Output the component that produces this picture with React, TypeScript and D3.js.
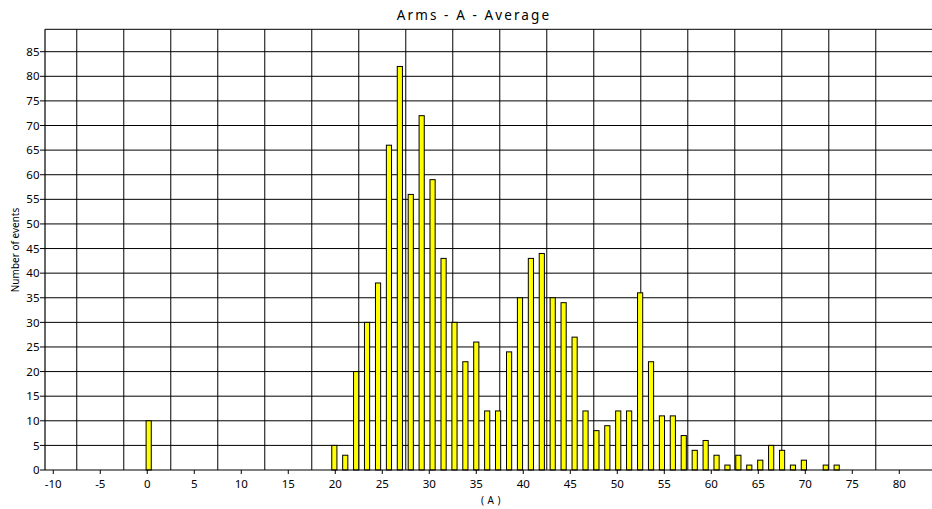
import React from "react";
import * as d3 from "d3";

const title = "Arms - A - Average";
const xLabel = "( A )";
const yLabel = "Number of events";

// bin centers (A) and counts
const binCenters = [
  0.15, 19.9, 21.06, 22.22, 23.38, 24.55, 25.71, 26.87, 28.03, 29.19, 30.35,
  31.52, 32.68, 33.84, 35.0, 36.16, 37.32, 38.49, 39.65, 40.81, 41.97, 43.13,
  44.29, 45.46, 46.62, 47.78, 48.94, 50.1, 51.26, 52.43, 53.59, 54.75, 55.91,
  57.07, 58.24, 59.4, 60.56, 61.72, 62.88, 64.04, 65.21, 66.37, 67.53, 68.69,
  69.85, 71.01, 72.18, 73.34,
];
const counts = [
  10, 5, 3, 20, 30, 38, 66, 82, 56, 72, 59, 43, 30, 22, 26, 12, 12, 24, 35, 43,
  44, 35, 34, 27, 12, 8, 9, 12, 12, 36, 22, 11, 11, 7, 4, 6, 3, 1, 3, 1, 2, 5,
  4, 1, 2, 0, 1, 1,
];

const xTicks = [-10, -5, 0, 5, 10, 15, 20, 25, 30, 35, 40, 45, 50, 55, 60, 65, 70, 75, 80];
const xGrid = [-7.5, -2.5, 2.5, 7.5, 12.5, 17.5, 22.5, 27.5, 32.5, 37.5, 42.5, 47.5, 52.5, 57.5, 62.5, 67.5, 72.5, 77.5];
const yTicks = [0, 5, 10, 15, 20, 25, 30, 35, 40, 45, 50, 55, 60, 65, 70, 75, 80, 85];

const W = 932;
const H = 509;
const FONT = "'Noto Sans', 'DejaVu Sans', sans-serif";

export default function App() {
  const x = d3.scaleLinear().domain([-10.88, 83.48]).range([45, 932]);
  const y = d3.scaleLinear().domain([0, 89.55]).range([470, 29.3]);
  const barW = x(0.55) - x(0);

  return (
    <svg
      width={W}
      height={H}
      style={{ position: "absolute", left: 0, top: 0, background: "#fff" }}
      fontFamily={FONT}
    >
      <rect x={0} y={0} width={W} height={H} fill="#fff" />
      {/* horizontal grid */}
      {yTicks.filter((t) => t > 0).map((t) => (
        <line key={"hy" + t} x1={x.range()[0]} x2={x.range()[1]} y1={y(t)} y2={y(t)} stroke="#000" strokeWidth={1} />
      ))}
      {/* top border */}
      <line x1={x.range()[0]} x2={x.range()[1]} y1={y.range()[1]} y2={y.range()[1]} stroke="#000" strokeWidth={1} />
      {/* vertical grid */}
      {xGrid.map((g) => (
        <line key={"gx" + g} x1={x(g)} x2={x(g)} y1={y.range()[1]} y2={y(0)} stroke="#000" strokeWidth={1} />
      ))}
      {/* bars */}
      {counts.map((c, i) =>
        c > 0 ? (
          <rect
            key={"b" + i}
            x={x(binCenters[i]) - barW / 2}
            y={y(c)}
            width={barW}
            height={y(0) - y(c)}
            fill="#ffff00"
            stroke="#000"
            strokeWidth={1}
          />
        ) : null
      )}
      {/* axes */}
      <line x1={x.range()[0]} x2={x.range()[0]} y1={y.range()[1]} y2={y(0)} stroke="#000" strokeWidth={1.2} />
      <line x1={x.range()[0]} x2={x.range()[1]} y1={y(0)} y2={y(0)} stroke="#000" strokeWidth={1.2} />
      {yTicks.map((t) => (
        <g key={"yt" + t}>
          <line x1={x.range()[0] - 5} x2={x.range()[0]} y1={y(t)} y2={y(t)} stroke="#000" />
          <text x={39.5} y={y(t)} dy="0.36em" textAnchor="end" fontSize={11.5} fill="#000">
            {t}
          </text>
        </g>
      ))}
      {xTicks.map((t) => (
        <g key={"xt" + t}>
          <line x1={x(t)} x2={x(t)} y1={y(0)} y2={y(0) + 4} stroke="#000" />
          <text x={x(t)} y={488} textAnchor="middle" fontSize={11.5} fill="#000">
            {t}
          </text>
        </g>
      ))}
      <text x={474} y={20} textAnchor="middle" fontSize={13.5} letterSpacing={2.1} fill="#000">
        {title}
      </text>
      <text x={491} y={504} textAnchor="middle" fontSize={10} letterSpacing={0.5} fill="#000">
        {xLabel}
      </text>
      <text
        transform={`translate(18.5,250) rotate(-90)`}
        textAnchor="middle"
        fontSize={10}
        fill="#000"
      >
        {yLabel}
      </text>
    </svg>
  );
}
